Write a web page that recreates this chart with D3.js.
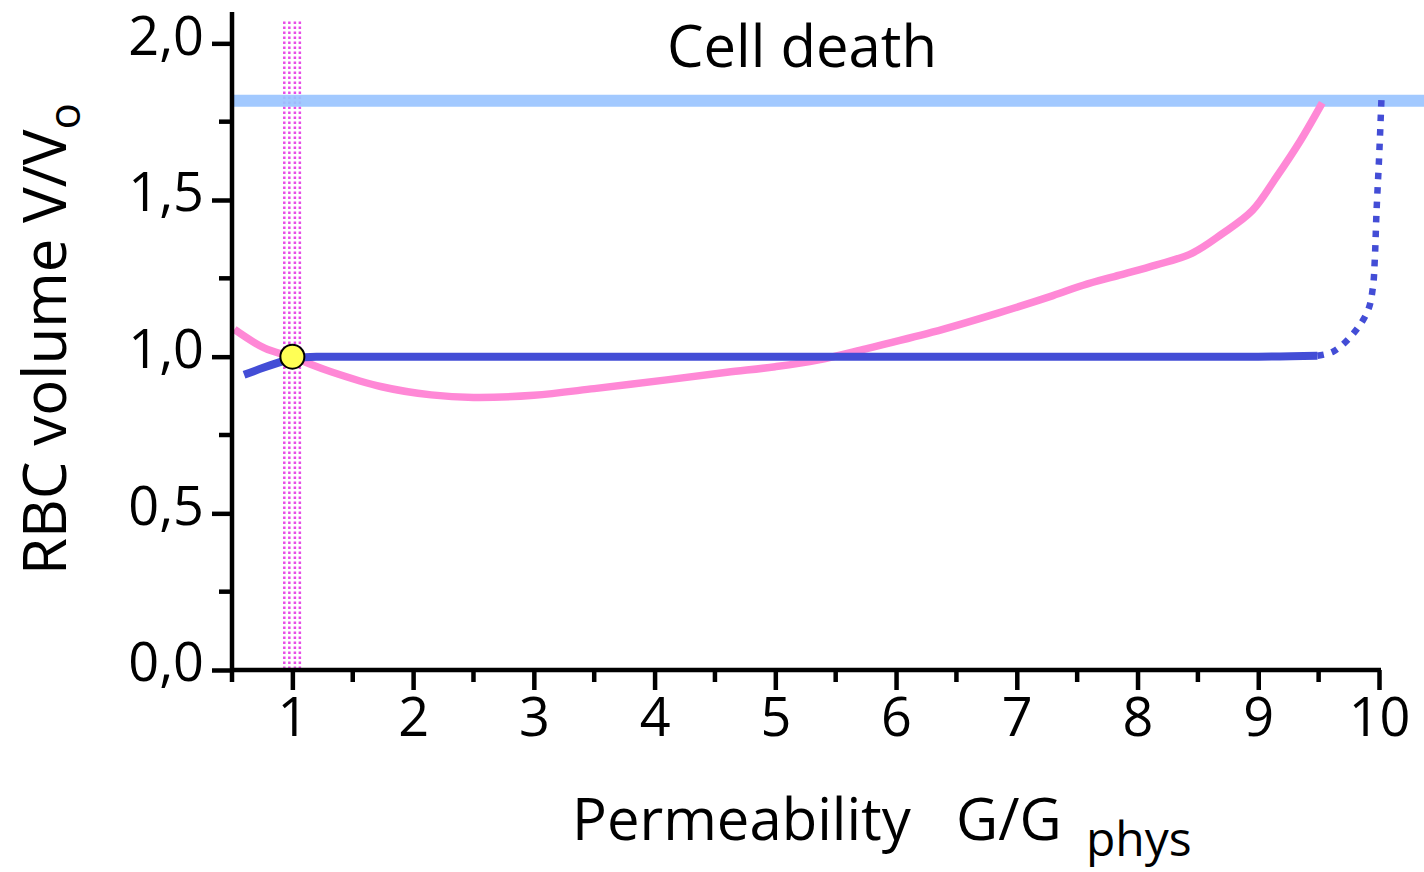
<!DOCTYPE html>
<html>
<head>
<meta charset="utf-8">
<script src="https://cdn.jsdelivr.net/npm/d3@7"></script>
<style>
	body { margin: 0; background: white; }
	text { font-family: "Open Sans", sans-serif; fill: black; }
</style>
</head>
<body>
<div id="chart"></div>
<script>
// Pink curve (volume vs permeability)
const pinkX = [0.52, 0.77, 1.0, 1.32, 1.74, 2.15, 2.5, 3.0, 3.5, 4.1, 4.6, 5.0, 5.35, 5.75, 6.3, 6.85, 7.3, 7.55, 7.85, 8.15, 8.45, 8.7, 8.95, 9.15, 9.35, 9.53]
const pinkY = [1.087, 1.027, 0.998, 0.952, 0.904, 0.878, 0.870, 0.877, 0.898, 0.926, 0.950, 0.968, 0.989, 1.025, 1.078, 1.140, 1.195, 1.228, 1.260, 1.292, 1.330, 1.392, 1.466, 1.573, 1.690, 1.810]

// Blue curve, solid part
const blueX = [0.6, 0.77, 0.91, 1.0, 1.2, 3, 6, 9, 9.49]
const blueY = [0.942, 0.966, 0.984, 0.995, 1.0, 1.0, 1.0, 1.0, 1.003]

// Blue curve, dotted part
const blueDotX = [9.49, 9.62, 9.79, 9.91, 9.95, 9.965, 9.98, 10.0, 10.02]
const blueDotY = [1.003, 1.016, 1.075, 1.149, 1.223, 1.309, 1.468, 1.628, 1.819]

// Cell death threshold and control point
const deathLevel = 1.817
const controlPoint = [1, 1]
// Dotted vertical lines around G/Gphys = 1
const bandLines = [0.933, 0.975, 1.021, 1.062]
const bandTop = 2.07

const xTicks = [1, 2, 3, 4, 5, 6, 7, 8, 9, 10]
const xMinor = [0.5, 1.5, 2.5, 3.5, 4.5, 5.5, 6.5, 7.5, 8.5, 9.5]
const yTicks = [0, 0.5, 1.0, 1.5, 2.0]
const yMinor = [0.25, 0.75, 1.25, 1.75]

const width = 1424
const height = 872

const svg = d3.select("#chart")
	.append("svg")
	.attr("width", width)
	.attr("height", height)

const x = d3.scaleLinear().domain([0.5, 10]).range([232, 1379])
const y = d3.scaleLinear().domain([0, 2.1]).range([670, 12])

// Dotted band lines
svg.selectAll(".band-line")
	.data(bandLines)
	.enter()
	.append("line")
	.attr("class", "band-line")
	.attr("x1", d => x(d))
	.attr("x2", d => x(d))
	.attr("y1", y(bandTop))
	.attr("y2", y(0))
	.attr("stroke", "#e84ce8")
	.attr("stroke-width", 2.5)
	.attr("stroke-dasharray", "2.5,2.5")

// Cell death line
svg.append("line")
	.attr("x1", x(0.5))
	.attr("x2", width)
	.attr("y1", y(deathLevel))
	.attr("y2", y(deathLevel))
	.attr("stroke", "#99c4ff")
	.attr("stroke-width", 12)
	.attr("opacity", 0.9)

svg.append("text")
	.attr("x", 802)
	.attr("y", 67)
	.attr("text-anchor", "middle")
	.attr("font-size", 58)
	.text("Cell death")

const line = d3.line()
	.x(d => x(d[0]))
	.y(d => y(d[1]))

svg.append("path")
	.datum(pinkX.map((v, i) => [v, pinkY[i]]))
	.attr("d", line.curve(d3.curveCatmullRom))
	.attr("fill", "none")
	.attr("stroke", "#ff88d6")
	.attr("stroke-width", 7.5)

svg.append("path")
	.datum(blueX.map((v, i) => [v, blueY[i]]))
	.attr("d", line.curve(d3.curveMonotoneX))
	.attr("fill", "none")
	.attr("stroke", "#434dd6")
	.attr("stroke-width", 8)

svg.append("path")
	.datum(blueDotX.map((v, i) => [v, blueDotY[i]]))
	.attr("d", line.curve(d3.curveCatmullRom))
	.attr("fill", "none")
	.attr("stroke", "#434dd6")
	.attr("stroke-width", 6.5)
	.attr("stroke-dasharray", "6.5,8")

svg.append("circle")
	.attr("cx", x(controlPoint[0]))
	.attr("cy", y(controlPoint[1]))
	.attr("r", 12)
	.attr("fill", "#ffff55")
	.attr("stroke", "black")
	.attr("stroke-width", 2)

// Axes
const xAxis = svg.append("g")
	.attr("transform", `translate(0,${y(0)})`)
	.call(d3.axisBottom(x).tickValues(xTicks).tickSize(20).tickSizeOuter(0).tickPadding(8).tickFormat(d3.format("d")))
xAxis.select(".domain").attr("stroke-width", 4.5).attr("d", `M${x(0.5)},0H${x(10) + 2}`)
xAxis.selectAll(".tick line").attr("stroke-width", 4.5)
xAxis.selectAll(".tick text").attr("font-size", 54).attr("font-family", "Open Sans").attr("fill", "black")
xAxis.selectAll(".minor")
	.data(xMinor)
	.enter()
	.append("line")
	.attr("class", "minor")
	.attr("x1", d => x(d))
	.attr("x2", d => x(d))
	.attr("y1", 0)
	.attr("y2", 12)
	.attr("stroke", "black")
	.attr("stroke-width", 4.5)

const fmt = d => d.toFixed(1).replace(".", ",")
const yAxis = svg.append("g")
	.attr("transform", `translate(${x(0.5)},0)`)
	.call(d3.axisLeft(y).tickValues(yTicks).tickSize(20).tickSizeOuter(0).tickPadding(8).tickFormat(fmt))
yAxis.select(".domain").attr("stroke-width", 4.5).attr("d", `M0,${y(2.1)}V${y(0) + 2}`)
yAxis.selectAll(".tick line").attr("stroke-width", 4.5)
yAxis.selectAll(".tick text").attr("font-size", 54).attr("font-family", "Open Sans").attr("fill", "black").attr("dy", "0.2em")
yAxis.selectAll(".minor")
	.data(yMinor)
	.enter()
	.append("line")
	.attr("class", "minor")
	.attr("x1", 0)
	.attr("x2", -13)
	.attr("y1", d => y(d))
	.attr("y2", d => y(d))
	.attr("stroke", "black")
	.attr("stroke-width", 4.5)

// Axis titles
const xTitle = svg.append("text")
	.attr("x", 572)
	.attr("y", 840)
	.attr("font-size", 58)
xTitle.append("tspan").text("Permeability")
xTitle.append("tspan").attr("x", 956).text("G/G")
xTitle.append("tspan").attr("x", 1086).attr("font-size", 48).attr("dy", 16).text("phys")

const yTitle = svg.append("text")
	.attr("transform", "translate(66,575) rotate(-90)")
	.attr("font-size", 60)
yTitle.append("tspan").text("RBC volume V/V")
yTitle.append("tspan").attr("font-size", 44).attr("dy", 14).text("o")
</script>
</body>
</html>
